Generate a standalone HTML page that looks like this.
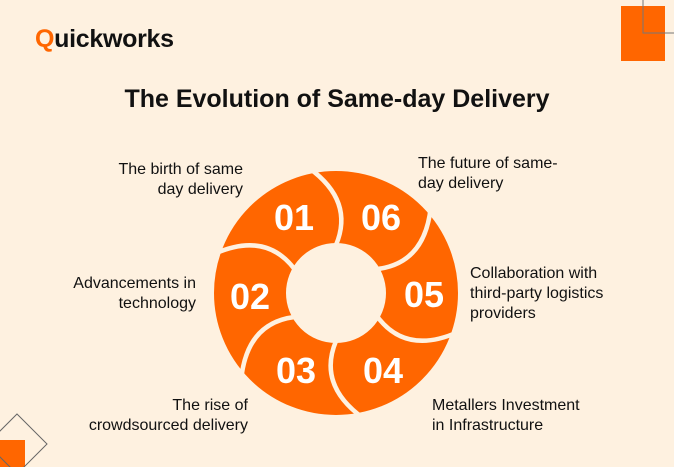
<!DOCTYPE html>
<html><head><meta charset="utf-8"><style>
html,body{margin:0;padding:0}
body{width:674px;height:467px;background:#FEF1E0;position:relative;overflow:hidden;font-family:"Liberation Sans",sans-serif;color:#111}
.t{position:absolute;font-size:16px;line-height:20px;white-space:nowrap}
.r{text-align:right}
</style></head><body>
<svg width="674" height="467" style="position:absolute;left:0;top:0">
  <rect x="621" y="6" width="44" height="55" fill="#FF6600"/>
  <rect x="643" y="-10" width="40" height="43" fill="none" stroke="#777" stroke-width="1"/>
  <rect x="0" y="440" width="25" height="30" fill="#FF6600"/>
  <polygon points="17,414 47,444 17,474 -13,444" fill="none" stroke="#666" stroke-width="1"/>
  <g transform="translate(336,293)">
    <circle r="86" fill="none" stroke="#FF6600" stroke-width="72"/>
    <g fill="none" stroke="#FEF1E0" stroke-width="4.5">
      <path d="M-27,-125 Q18.5,-92 0,-48"/>
      <path d="M-27,-125 Q18.5,-92 0,-48" transform="rotate(60)"/>
      <path d="M-27,-125 Q18.5,-92 0,-48" transform="rotate(120)"/>
      <path d="M-27,-125 Q18.5,-92 0,-48" transform="rotate(180)"/>
      <path d="M-27,-125 Q18.5,-92 0,-48" transform="rotate(240)"/>
      <path d="M-27,-125 Q18.5,-92 0,-48" transform="rotate(300)"/>
    </g>
    <g fill="#fff" font-family="Liberation Sans,sans-serif" font-weight="bold" font-size="36" text-anchor="middle">
      <text x="-42" y="-63">01</text>
      <text x="45" y="-63">06</text>
      <text x="88" y="14">05</text>
      <text x="47" y="90">04</text>
      <text x="-40" y="90">03</text>
      <text x="-86" y="16">02</text>
    </g>
  </g>
</svg>
<div style="position:absolute;left:35px;top:25px;font-size:25px;font-weight:bold;letter-spacing:-0.3px"><span style="color:#FF6600">Q</span>uickworks</div>
<div style="position:absolute;left:0;width:674px;top:84px;text-align:center;font-size:25px;font-weight:bold;line-height:30px">The Evolution of Same-day Delivery</div>
<div class="t r" style="right:431px;top:160px">The birth of same<br>day delivery</div>
<div class="t" style="left:418px;top:154px">The future of same-<br>day delivery</div>
<div class="t r" style="right:478px;top:274px">Advancements in<br>technology</div>
<div class="t" style="left:470px;top:264px">Collaboration with<br>third-party logistics<br>providers</div>
<div class="t r" style="right:426px;top:396px">The rise of<br>crowdsourced delivery</div>
<div class="t" style="left:432px;top:396px">Metallers Investment<br>in Infrastructure</div>
</body></html>
